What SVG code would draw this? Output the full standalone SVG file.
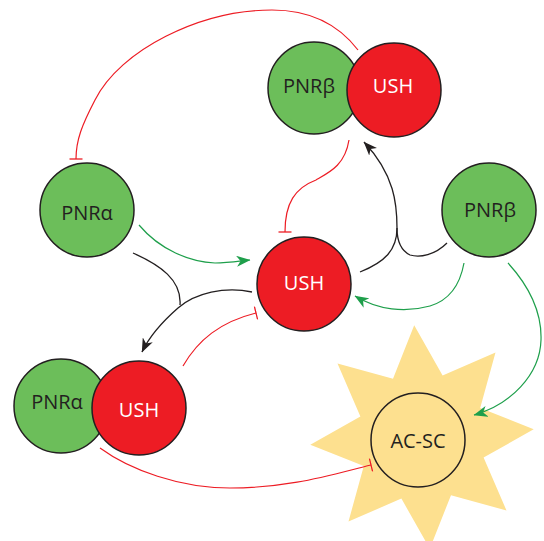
<svg xmlns="http://www.w3.org/2000/svg" width="544" height="541" viewBox="0 0 544 541">
<defs>
<style>
.g{fill:#6cbe5a;stroke:#231f20;stroke-width:1.5}
.r{fill:#ed1c24;stroke:#231f20;stroke-width:1.5}
.t{font-family:"Open Sans","Noto Sans","Liberation Sans",sans-serif;font-size:20px;text-anchor:middle;fill:#231f20}
.w{fill:#ffffff}
.lr{fill:none;stroke:#ed1c24;stroke-width:1.2}
.lg{fill:none;stroke:#1e9f4b;stroke-width:1.2}
.lk{fill:none;stroke:#231f20;stroke-width:1.3}
</style>
<marker id="arrG" viewBox="0 0 14 11" refX="13.5" refY="5.5" markerWidth="14" markerHeight="11" orient="auto" markerUnits="userSpaceOnUse"><path d="M0,0 L14,5.5 L0,11 L4,5.5 z" fill="#1e9f4b"/></marker>
<marker id="arrK" viewBox="0 0 14 11" refX="13.5" refY="5.5" markerWidth="14" markerHeight="11" orient="auto" markerUnits="userSpaceOnUse"><path d="M0,0 L14,5.5 L0,11 L4,5.5 z" fill="#231f20"/></marker>
<marker id="tR" viewBox="-1 -7 2 14" refX="0" refY="0" markerWidth="2" markerHeight="14" orient="auto" markerUnits="userSpaceOnUse"><line x1="0" y1="-6.5" x2="0" y2="6.5" stroke="#ed1c24" stroke-width="1.3"/></marker>
</defs>

<g id="acsc">
<polygon fill="#fde08f" points="414.2,325.3 442.6,375.4 495.5,352.5 480.2,408 533.7,429.2 483.6,457.6 506.5,510.5 451,495.2 429.8,548.7 401.4,498.6 348.5,521.5 363.8,466 310.3,444.8 360.4,416.4 337.5,363.5 393,378.8"/>
<circle cx="418" cy="440" r="47" fill="#fde08f" stroke="#231f20" stroke-width="1.5"/>
<text class="t" x="418" y="448">AC-SC</text>
</g>

<g id="pnrb-top">
<circle class="g" cx="314" cy="88" r="46"/>
<text class="t" x="309" y="93">PNRβ</text>
</g>
<g id="ush-top">
<circle class="r" cx="394" cy="90" r="47"/>
<text class="t w" x="393" y="93">USH</text>
</g>

<g id="pnra-mid">
<circle class="g" cx="87" cy="210" r="47"/>
<text class="t" x="87" y="220">PNRα</text>
</g>

<g id="ush-mid">
<circle class="r" cx="304" cy="284" r="47"/>
<text class="t w" x="304" y="290">USH</text>
</g>

<g id="pnrb-right">
<circle class="g" cx="489" cy="210" r="47"/>
<text class="t" x="490" y="217">PNRβ</text>
</g>

<g id="pnra-bottom">
<circle class="g" cx="61" cy="406" r="47"/>
<text class="t" x="57" y="409">PNRα</text>
</g>
<g id="ush-bottom">
<circle class="r" cx="139" cy="408" r="47"/>
<text class="t w" x="139" y="417">USH</text>
</g>

<g id="connectors">
<path class="lr" d="M358,50 C335,20 305,10 272,10 C200,10 120,50 95,100 C82,125 76,140 76,159" marker-end="url(#tR)"/>
<path class="lr" d="M349,140 C345,165 330,172 316,180 C295,188 285,203 285,232" marker-end="url(#tR)"/>
<path class="lg" d="M139,225 C160,250 190,262 215,263 C228,263 240,261 250,260" marker-end="url(#arrG)"/>
<path class="lk" d="M133,253 C160,265 182,280 180,305"/>
<path class="lk" d="M252,292 C225,286 195,293 178,308 C162,322 150,335 142,352" marker-end="url(#arrK)"/>
<path class="lk" d="M360,272 C385,262 397,250 397,228 C397,205 395,175 364,142" marker-end="url(#arrK)"/>
<path class="lk" d="M447,243 C435,255 420,258 410,255 C400,250 397,240 397,228"/>
<path class="lg" d="M464,263 C460,285 450,300 430,306 C405,313 378,310 355,296" marker-end="url(#arrG)"/>
<path class="lg" d="M508,263 C528,285 542,310 541,340 C540,375 510,405 474,415" marker-end="url(#arrG)"/>
<path class="lr" d="M183,366 C198,340 220,322 256,313" marker-end="url(#tR)"/>
<path class="lr" d="M100,448 C130,470 180,488 230,488 C290,488 330,475 371,465" marker-end="url(#tR)"/>
</g>
</svg>
